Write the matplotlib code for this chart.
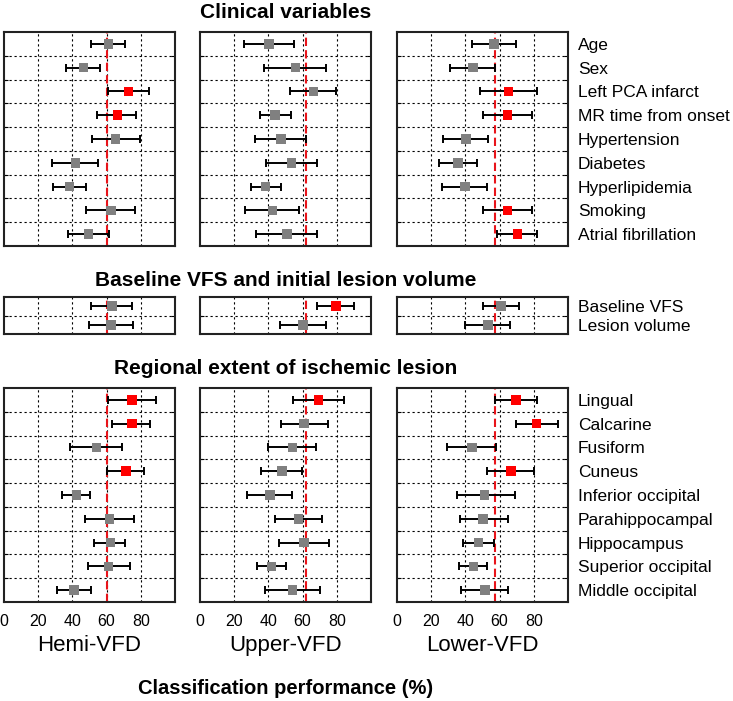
import matplotlib
matplotlib.use("Agg")
import matplotlib.pyplot as plt
import numpy as np

plt.rcParams['font.family'] = ['Liberation Sans', 'DejaVu Sans']

# ---------------- data ----------------
clinical_labels = ["Age", "Sex", "Left PCA infarct", "MR time from onset", "Hypertension",
                   "Diabetes", "Hyperlipidemia", "Smoking", "Atrial fibrillation"]
baseline_labels = ["Baseline VFS", "Lesion volume"]
regional_labels = ["Lingual", "Calcarine", "Fusiform", "Cuneus", "Inferior occipital",
                   "Parahippocampal", "Hippocampus", "Superior occipital", "Middle occipital"]

panel_names = ["Hemi-VFD", "Upper-VFD", "Lower-VFD"]
chance_levels = [60.0, 62.2, 57.1]

# Clinical variables: mean, lower, upper, significant
clin_hemi_mean = [61.2, 46.6, 72.7, 66.3, 65.3, 41.9, 38.4, 62.6, 49.5]
clin_hemi_low = [50.7, 36.0, 61.0, 54.6, 51.3, 28.3, 28.8, 48.1, 37.4]
clin_hemi_high = [71.0, 56.3, 84.8, 77.2, 79.5, 55.0, 48.0, 76.6, 61.4]
clin_hemi_sig = [0, 0, 1, 1, 0, 0, 0, 0, 0]

clin_upper_mean = [40.2, 55.9, 66.3, 44.0, 47.2, 53.6, 38.4, 42.5, 50.8]
clin_upper_low = [25.9, 37.3, 52.5, 34.9, 32.4, 38.8, 29.6, 26.5, 32.5]
clin_upper_high = [54.8, 73.9, 79.8, 53.4, 62.2, 68.6, 47.4, 57.7, 68.6]
clin_upper_sig = [0, 0, 0, 0, 0, 0, 0, 0, 0]

clin_lower_mean = [56.7, 44.3, 65.3, 64.7, 40.4, 35.7, 39.6, 64.7, 70.4]
clin_lower_low = [43.7, 31.2, 48.8, 50.4, 26.7, 24.3, 26.3, 50.4, 58.2]
clin_lower_high = [69.8, 57.1, 81.6, 79.0, 53.5, 46.7, 52.4, 79.0, 81.8]
clin_lower_sig = [0, 0, 1, 1, 0, 0, 0, 1, 1]

# Baseline VFS and lesion volume
base_hemi_mean = [63.0, 62.6]
base_hemi_low = [50.7, 49.7]
base_hemi_high = [75.0, 75.4]
base_hemi_sig = [0, 0]

base_upper_mean = [79.5, 60.3]
base_upper_low = [68.6, 46.5]
base_upper_high = [90.2, 73.5]
base_upper_sig = [1, 0]

base_lower_mean = [61.0, 53.1]
base_lower_low = [50.4, 39.8]
base_lower_high = [71.6, 66.3]
base_lower_sig = [0, 0]

# Regional extent of ischemic lesion
reg_hemi_mean = [75.0, 74.9, 54.0, 71.3, 42.5, 61.8, 62.2, 61.2, 41.1]
reg_hemi_low = [61.0, 63.3, 38.6, 60.0, 33.9, 47.2, 52.8, 48.9, 31.0]
reg_hemi_high = [88.7, 85.6, 68.8, 81.9, 50.5, 75.8, 71.0, 73.5, 50.9]
reg_hemi_sig = [1, 1, 0, 1, 0, 0, 0, 0, 0]

reg_upper_mean = [69.2, 61.0, 54.1, 47.8, 40.8, 57.5, 61.0, 41.8, 54.1]
reg_upper_low = [54.1, 47.5, 39.6, 35.9, 27.3, 43.9, 46.3, 33.3, 38.0]
reg_upper_high = [84.3, 74.7, 68.0, 59.4, 53.7, 71.2, 75.3, 50.2, 70.4]
reg_upper_sig = [1, 0, 0, 0, 0, 0, 0, 0, 0]

reg_lower_mean = [69.6, 81.6, 43.9, 66.7, 51.2, 50.4, 47.6, 44.7, 51.6]
reg_lower_low = [57.6, 69.4, 29.0, 52.4, 35.1, 36.7, 38.6, 36.5, 37.6]
reg_lower_high = [81.6, 93.9, 58.0, 80.0, 68.8, 65.1, 56.9, 52.9, 65.1]
reg_lower_sig = [1, 1, 0, 1, 0, 0, 0, 0, 0]

x_ticks = [0, 20, 40, 60, 80]

groups = [
    ("Clinical variables", clinical_labels, [
        (clin_hemi_mean, clin_hemi_low, clin_hemi_high, clin_hemi_sig),
        (clin_upper_mean, clin_upper_low, clin_upper_high, clin_upper_sig),
        (clin_lower_mean, clin_lower_low, clin_lower_high, clin_lower_sig)]),
    ("Baseline VFS and initial lesion volume", baseline_labels, [
        (base_hemi_mean, base_hemi_low, base_hemi_high, base_hemi_sig),
        (base_upper_mean, base_upper_low, base_upper_high, base_upper_sig),
        (base_lower_mean, base_lower_low, base_lower_high, base_lower_sig)]),
    ("Regional extent of ischemic lesion", regional_labels, [
        (reg_hemi_mean, reg_hemi_low, reg_hemi_high, reg_hemi_sig),
        (reg_upper_mean, reg_upper_low, reg_upper_high, reg_upper_sig),
        (reg_lower_mean, reg_lower_low, reg_lower_high, reg_lower_sig)]),
]

# ---------------- layout ----------------
W, H = 733, 701
fig = plt.figure(figsize=(W / 100, H / 100), dpi=100)

col_left_px = [4, 200, 397]
col_w_px = 171
row_px = [(32, 246), (297, 334), (388, 602)]
title_y_px = [12, 280, 368]

def px_rect(x0, y0, x1, y1):
    return [x0 / W, 1 - y1 / H, (x1 - x0) / W, (y1 - y0) / H]

grid_kw = dict(color="black", linestyle=(0, (2, 2.5)), linewidth=0.8)

for gi, (title, labels, panels) in enumerate(groups):
    n = len(labels)
    y = np.arange(n)
    top, bot = row_px[gi]
    fig.text(286 / W, 1 - title_y_px[gi] / H, title, ha="center", va="center",
             fontsize=15, fontweight="bold")
    for ci, (mean, low, high, sig) in enumerate(panels):
        ax = fig.add_axes(px_rect(col_left_px[ci], top, col_left_px[ci] + col_w_px, bot))
        ax.set_xlim(0, 100)
        ax.set_ylim(n - 0.5, -0.5)
        # grid lines
        for xv in x_ticks[1:]:
            ax.axvline(xv, zorder=1, **grid_kw)
        for yb in np.arange(0.5, n - 0.5, 1.0):
            ax.axhline(yb, zorder=1, **grid_kw)
        ax.axvline(chance_levels[ci], color="#e8141a", linestyle=(0, (4, 2)),
                   linewidth=1.5, zorder=2)
        mean_a = np.array(mean)
        err = np.vstack([mean_a - np.array(low), np.array(high) - mean_a])
        ax.errorbar(mean_a, y, xerr=err, fmt="none", ecolor="black",
                    elinewidth=1.4, capsize=3, capthick=1.4, zorder=3)
        colors = ["#ff0000" if s else "#808080" for s in sig]
        ax.scatter(mean_a, y, marker="s", s=48, c=colors, edgecolors="none", zorder=4)
        # ticks
        ax.set_yticks(np.arange(0.5, n - 0.5, 1.0), minor=True)
        ax.set_yticks(y)
        ax.tick_params(axis="y", which="minor", direction="in", length=3,
                       left=True, right=True, width=0.8)
        ax.tick_params(axis="y", which="major", length=0, left=False, right=False,
                       labelleft=False, labelright=(ci == 2), labelsize=12.5, pad=7)
        if ci == 2:
            ax.set_yticklabels(labels)
        ax.set_xticks(x_ticks)
        ax.tick_params(axis="x", direction="in", length=0,
                       labelbottom=(gi == 2), labelsize=11.5, pad=9)
        for sp in ax.spines.values():
            sp.set_linewidth(1.5)
            sp.set_color("#222222")
        if gi == 2:
            ax.set_xlabel(panel_names[ci], fontsize=16, labelpad=4)

fig.text(286 / W, 1 - 688 / H, "Classification performance (%)", ha="center",
         va="center", fontsize=14.5, fontweight="bold")

fig.savefig("out.png", dpi=100)
